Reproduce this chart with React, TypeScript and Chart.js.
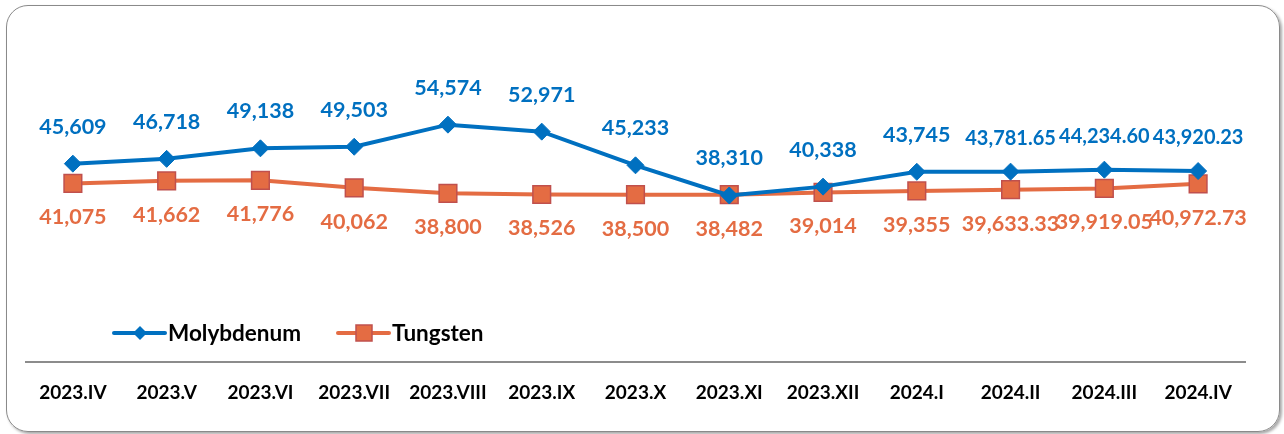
import React, { useEffect, useRef } from "react";
import { Chart, registerables } from "chart.js";

Chart.register(...registerables);

const categories = [
  "2023.IV", "2023.V", "2023.VI", "2023.VII", "2023.VIII", "2023.IX", "2023.X",
  "2023.XI", "2023.XII", "2024.I", "2024.II", "2024.III", "2024.IV",
];
const molybdenum = [45609, 46718, 49138, 49503, 54574, 52971, 45233, 38310, 40338, 43745, 43781.65, 44234.6, 43920.23];
const tungsten = [41075, 41662, 41776, 40062, 38800, 38526, 38500, 38482, 39014, 39355, 39633.33, 39919.05, 40972.73];
const molyLabels = ["45,609", "46,718", "49,138", "49,503", "54,574", "52,971", "45,233", "38,310", "40,338", "43,745", "43,781.65", "44,234.60", "43,920.23"];
const tungLabels = ["41,075", "41,662", "41,776", "40,062", "38,800", "38,526", "38,500", "38,482", "39,014", "39,355", "39,633.33", "39,919.05", "40,972.73"];

const BLUE = "#0070C0";
const ORANGE = "#E46C43";
const ORANGE_BORDER = "#C0504D";
const FONT = "Lato, 'Open Sans', sans-serif";

const dataLabelPlugin = {
  id: "dataLabels",
  afterDatasetsDraw(chart: any) {
    const ctx = chart.ctx;
    ctx.save();
    ctx.textAlign = "center";
    ctx.textBaseline = "middle";
    const sets = [
      { idx: 0, labels: molyLabels, color: BLUE, off: -37, small: true },
      { idx: 1, labels: tungLabels, color: ORANGE, off: 34, small: false },
    ];
    sets.forEach((s) => {
      const meta = chart.getDatasetMeta(s.idx);
      ctx.fillStyle = s.color;
      meta.data.forEach((pt: any, i: number) => {
        const lbl = s.labels[i];
        const dec = s.small && lbl.includes(".");
        ctx.font = `bold ${dec ? 20 : 21.5}px ${FONT}`;
        ctx.fillText(lbl, pt.x, pt.y + (dec ? -33 : s.off));
      });
    });
    ctx.restore();
  },
};

const legendPlugin = {
  id: "customLegend",
  afterDraw(chart: any) {
    const ctx = chart.ctx;
    ctx.save();
    const y = 333;
    const items = [
      { x: 114, text: "Molybdenum", color: BLUE, shape: "diamond" },
      { x: 338, text: "Tungsten", color: ORANGE, shape: "square" },
    ];
    items.forEach((it) => {
      ctx.strokeStyle = it.color;
      ctx.lineWidth = 4;
      ctx.lineCap = "round";
      ctx.beginPath();
      ctx.moveTo(it.x, y);
      ctx.lineTo(it.x + 51, y);
      ctx.stroke();
      const cx = it.x + 26;
      if (it.shape === "diamond") {
        ctx.fillStyle = BLUE;
        ctx.beginPath();
        ctx.moveTo(cx, y - 7);
        ctx.lineTo(cx + 7, y);
        ctx.lineTo(cx, y + 7);
        ctx.lineTo(cx - 7, y);
        ctx.closePath();
        ctx.fill();
      } else {
        ctx.fillStyle = ORANGE;
        ctx.strokeStyle = ORANGE_BORDER;
        ctx.lineWidth = 1.5;
        ctx.fillRect(cx - 8, y - 8, 16, 16);
        ctx.strokeRect(cx - 8, y - 8, 16, 16);
      }
      ctx.fillStyle = "#000";
      ctx.font = `bold 22.5px ${FONT}`;
      ctx.textAlign = "left";
      ctx.textBaseline = "middle";
      ctx.fillText(it.text, it.x + 54, y + 1);
    });
    ctx.restore();
  },
};

export default function App() {
  const ref = useRef<HTMLCanvasElement>(null);
  useEffect(() => {
    if (!ref.current) return;
    const chart = new Chart(ref.current, {
      type: "line",
      data: {
        labels: categories,
        datasets: [
          {
            label: "Molybdenum",
            data: molybdenum,
            borderColor: BLUE,
            backgroundColor: BLUE,
            borderWidth: 4,
            pointStyle: "rectRot",
            pointRadius: 8.5,
            pointBackgroundColor: BLUE,
            pointBorderColor: BLUE,
            pointBorderWidth: 1,
            tension: 0,
          },
          {
            label: "Tungsten",
            data: tungsten,
            borderColor: ORANGE,
            backgroundColor: ORANGE,
            borderWidth: 4,
            pointStyle: "rect",
            pointRadius: 12.5,
            pointBackgroundColor: ORANGE,
            pointBorderColor: ORANGE_BORDER,
            pointBorderWidth: 1.5,
            tension: 0,
          },
        ],
      },
      options: {
        animation: false,
        responsive: false,
        layout: { padding: { left: 26, right: 39, top: 14, bottom: 11 } },
        plugins: { legend: { display: false }, tooltip: { enabled: false } },
        scales: {
          x: {
            offset: true,
            grid: { display: false, drawTicks: false },
            border: { display: true, color: "#8c8c8c", width: 2 },
            ticks: {
              color: "#000",
              font: { family: FONT, size: 19, weight: "bold" },
              padding: 19,
              maxRotation: 0,
              autoSkip: false,
            },
          },
          y: {
            display: false,
            min: 0,
            max: 80000,
          },
        },
      },
      plugins: [dataLabelPlugin, legendPlugin],
    });
    return () => chart.destroy();
  }, []);
  return (
    <div style={{ position: "fixed", left: 0, top: 0, width: 1284, height: 434, background: "#fff" }}>
      <div
        style={{
          position: "absolute",
          left: 6,
          top: 5,
          width: 1274,
          height: 427,
          border: "1.5px solid #8a8a8a",
          borderRadius: 22,
          boxShadow: "2px 2px 3px rgba(0,0,0,0.35)",
          boxSizing: "border-box",
        }}
      />
      <canvas ref={ref} width={1284} height={434} style={{ position: "absolute", left: 0, top: 0 }} />
    </div>
  );
}
